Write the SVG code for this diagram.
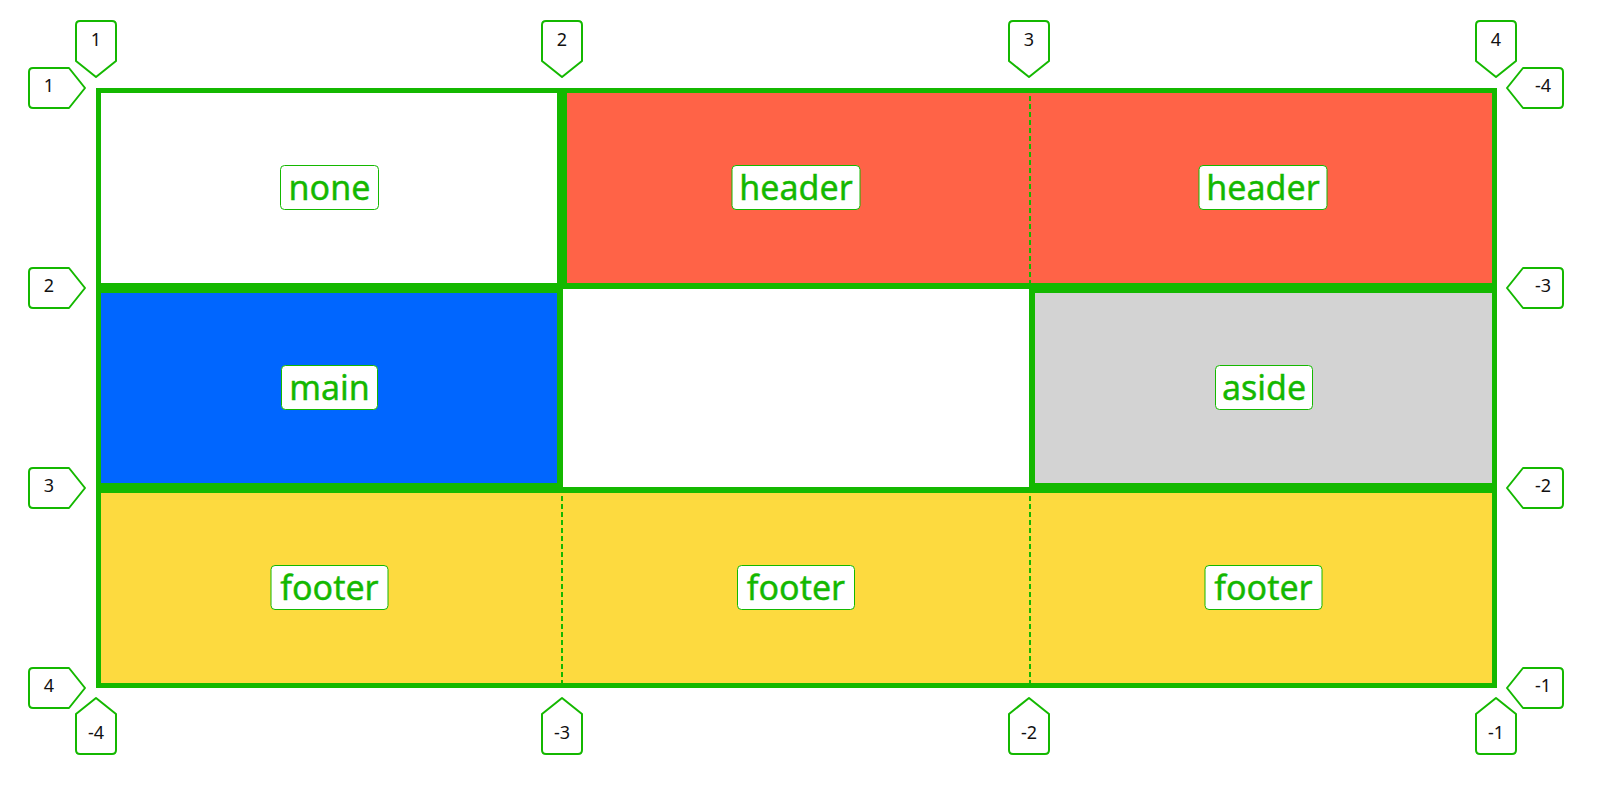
<svg xmlns="http://www.w3.org/2000/svg" xmlns:xlink="http://www.w3.org/1999/xlink" width="1602" height="794" viewBox="0 0 1602 794">
<style>
.badge{fill:#fff;stroke:#14b800;stroke-width:2;stroke-linejoin:round}
.btxt{font-family:"Noto Sans","DejaVu Sans",sans-serif;font-size:18px;fill:#111;text-anchor:middle}
.lbl{fill:#fff;stroke:#14b800;stroke-width:1}
.ltxt{font-family:"Noto Sans","DejaVu Sans",sans-serif;font-size:34px;fill:#14b800;stroke:#14b800;stroke-width:0.4;text-anchor:middle}
.gl{stroke:#14b800;stroke-width:2;stroke-dasharray:5 3;fill:none}
</style>
<defs>
<path id="bt" d="M -20,-16 L -20,-52 Q -20,-56 -16,-56 L 16,-56 Q 20,-56 20,-52 L 20,-16 L 0,0 Z"/>
<path id="bb" d="M 0,0 L 20,16 L 20,52 Q 20,56 16,56 L -16,56 Q -20,56 -20,52 L -20,16 Z"/>
<path id="bl" d="M 0,0 L -16,20 L -52,20 Q -56,20 -56,16 L -56,-16 Q -56,-20 -52,-20 L -16,-20 Z"/>
<path id="br" d="M 0,0 L 16,-20 L 52,-20 Q 56,-20 56,-16 L 56,16 Q 56,20 52,20 L 16,20 Z"/>
</defs>
<rect x="0" y="0" width="1602" height="794" fill="#fff"/>
<g id="grid">
<rect x="96" y="88" width="1401" height="600" fill="#14b800"/>
</g>
<g id="cell-none">
<rect x="101" y="93" width="456" height="190" fill="#fff"/>
<rect class="lbl" x="280.5" y="165.5" width="98" height="44" rx="4"/>
<text class="ltxt" x="329.5" y="200">none</text>
</g>
<g id="cell-header">
<rect x="567" y="93" width="925" height="190" fill="#ff6347"/>
</g>
<g id="cell-main">
<rect x="101" y="293" width="456" height="190" fill="#0066ff"/>
<rect class="lbl" x="281.5" y="365.5" width="96" height="44" rx="4"/>
<text class="ltxt" x="329.5" y="400">main</text>
</g>
<g id="cell-empty">
<rect x="563" y="289" width="466" height="198" fill="#fff"/>
</g>
<g id="cell-aside">
<rect x="1035" y="293" width="457" height="190" fill="#d3d3d3"/>
<rect class="lbl" x="1215.5" y="365.5" width="97" height="44" rx="4"/>
<text class="ltxt" x="1264" y="400">aside</text>
</g>
<g id="cell-footer">
<rect x="101" y="493" width="1391" height="190" fill="#fdda3f"/>
</g>
<g id="connectors">
<line class="gl" x1="1030" y1="88" x2="1030" y2="283"/>
<line class="gl" x1="562" y1="488" x2="562" y2="683"/>
<line class="gl" x1="1030" y1="488" x2="1030" y2="683"/>
</g>
<g id="labels">
<rect class="lbl" x="732" y="165.5" width="128" height="44" rx="4"/>
<text class="ltxt" x="796" y="200">header</text>
<rect class="lbl" x="1199" y="165.5" width="128" height="44" rx="4"/>
<text class="ltxt" x="1263" y="200">header</text>
<rect class="lbl" x="271" y="565.5" width="117" height="44" rx="4"/>
<text class="ltxt" x="329.5" y="600">footer</text>
<rect class="lbl" x="737.5" y="565.5" width="117" height="44" rx="4"/>
<text class="ltxt" x="796" y="600">footer</text>
<rect class="lbl" x="1205" y="565.5" width="117" height="44" rx="4"/>
<text class="ltxt" x="1263.5" y="600">footer</text>
</g>
<g id="badges-top">
<use xlink:href="#bt" class="badge" transform="translate(96,77)"/><text class="btxt" x="96" y="45.5">1</text>
<use xlink:href="#bt" class="badge" transform="translate(562,77)"/><text class="btxt" x="562" y="45.5">2</text>
<use xlink:href="#bt" class="badge" transform="translate(1029,77)"/><text class="btxt" x="1029" y="45.5">3</text>
<use xlink:href="#bt" class="badge" transform="translate(1496,77)"/><text class="btxt" x="1496" y="45.5">4</text>
</g>
<g id="badges-bottom">
<use xlink:href="#bb" class="badge" transform="translate(96,698)"/><text class="btxt" x="96" y="738.5">-4</text>
<use xlink:href="#bb" class="badge" transform="translate(562,698)"/><text class="btxt" x="562" y="738.5">-3</text>
<use xlink:href="#bb" class="badge" transform="translate(1029,698)"/><text class="btxt" x="1029" y="738.5">-2</text>
<use xlink:href="#bb" class="badge" transform="translate(1496,698)"/><text class="btxt" x="1496" y="738.5">-1</text>
</g>
<g id="badges-left">
<use xlink:href="#bl" class="badge" transform="translate(85,88)"/><text class="btxt" x="49" y="92">1</text>
<use xlink:href="#bl" class="badge" transform="translate(85,288)"/><text class="btxt" x="49" y="292">2</text>
<use xlink:href="#bl" class="badge" transform="translate(85,488)"/><text class="btxt" x="49" y="492">3</text>
<use xlink:href="#bl" class="badge" transform="translate(85,688)"/><text class="btxt" x="49" y="692">4</text>
</g>
<g id="badges-right">
<use xlink:href="#br" class="badge" transform="translate(1507,88)"/><text class="btxt" x="1543" y="92">-4</text>
<use xlink:href="#br" class="badge" transform="translate(1507,288)"/><text class="btxt" x="1543" y="292">-3</text>
<use xlink:href="#br" class="badge" transform="translate(1507,488)"/><text class="btxt" x="1543" y="492">-2</text>
<use xlink:href="#br" class="badge" transform="translate(1507,688)"/><text class="btxt" x="1543" y="692">-1</text>
</g>
</svg>
